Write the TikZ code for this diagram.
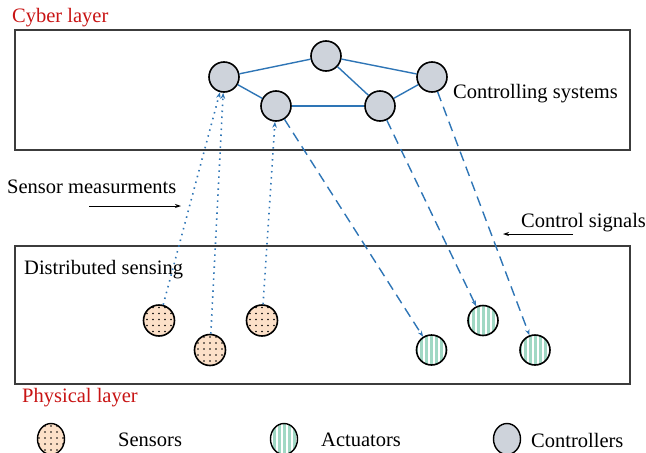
\documentclass[tikz,border=0pt]{standalone}
\usepackage{fontspec}
\setmainfont{Liberation Serif}
\usetikzlibrary{arrows.meta,shapes.geometric}
\definecolor{lineblue}{RGB}{46,117,182}
\definecolor{ctrlfill}{RGB}{206,211,219}
\definecolor{sensfill}{RGB}{252,224,200}
\definecolor{actgreen}{RGB}{160,216,196}
\definecolor{layerred}{RGB}{200,20,20}
\definecolor{boxgray}{RGB}{60,60,60}
\tikzset{
  ctrl/.style={circle,draw=black,line width=1.6pt,fill=ctrlfill,minimum size=30pt,inner sep=0pt},
  sensorpat/.style={path picture={
     \foreach \i in {-2,...,2}{\foreach \j in {-2,...,2}{
       \fill[black] ([shift={(\i*6pt,\j*6pt+1pt)}]path picture bounding box.center) circle (0.8pt);}}}},
  actpat/.style={path picture={
     \foreach \i in {-3,...,3}{
       \fill[actgreen] ([shift={(\i*5pt-1.5pt,-20pt)}]path picture bounding box.center) rectangle ++(3pt,40pt);}}},
  sens/.style={circle,draw=black,line width=1.6pt,fill=sensfill,minimum size=31pt,inner sep=0pt,sensorpat},
  act/.style={circle,draw=black,line width=1.6pt,fill=white,minimum size=30pt,inner sep=0pt,actpat},
  legsens/.style={ellipse,draw=black,line width=1.4pt,fill=sensfill,minimum width=27pt,minimum height=31pt,inner sep=0pt,sensorpat},
  legact/.style={ellipse,draw=black,line width=1.4pt,fill=white,minimum width=27pt,minimum height=31pt,inner sep=0pt,actpat},
  legctrl/.style={ellipse,draw=black,line width=1.4pt,fill=ctrlfill,minimum width=27pt,minimum height=31pt,inner sep=0pt},
  layerbox/.style={draw=boxgray,line width=1.5pt},
  net/.style={lineblue,line width=1.4pt},
  sensline/.style={lineblue,line width=1.6pt,dash pattern=on 1.5pt off 4.5pt,-{Stealth[length=6pt,width=4.5pt]}},
  ctrlline/.style={lineblue,line width=1.4pt,dash pattern=on 10pt off 6pt,-{Stealth[length=6pt,width=4.5pt]}},
  lbl/.style={anchor=west,inner sep=0pt,font=\fontsize{20.5}{24}\selectfont},
  redlbl/.style={lbl,text=layerred},
  plain/.style={black,line width=0.9pt,-{Stealth[length=6pt,width=4pt]}}
}
\begin{document}
\begin{tikzpicture}[x=1pt,y=-1pt]
\useasboundingbox (0,0) rectangle (646,453);
% layer boxes
\draw[layerbox] (15,30) rectangle (630,150);
\draw[layerbox] (15,246) rectangle (630,384);
% labels
\node[redlbl] (cyber) at (12,18) {Cyber layer};
\node[redlbl] (phys) at (22,398) {Physical layer};
\node[lbl] (ctrlsys) at (453,94) {Controlling systems};
\node[lbl] (sensm) at (7,187) {Sensor measurments};
\node[lbl] (ctrls) at (521,223) {Control signals};
\node[lbl] (dist) at (24,270) {Distributed sensing};
\coordinate (sa) at (89,206);
\coordinate (sb) at (181,206);
\coordinate (ca) at (573,234);
\coordinate (cb) at (503,234);
\draw[plain] (sa) -- (sb);
\draw[plain] (ca) -- (cb);
% controllers
\node[ctrl] (C1) at (224,77) {};
\node[ctrl] (C2) at (326,56) {};
\node[ctrl] (C3) at (276,106) {};
\node[ctrl] (C4) at (380,106) {};
\node[ctrl] (C5) at (432,77) {};
\draw[net] (C1) -- (C2);
\draw[net] (C1) -- (C3);
\draw[net] (C3) -- (C4);
\draw[net] (C2) -- (C4);
\draw[net] (C2) -- (C5);
\draw[net] (C4) -- (C5);
% sensors
\node[sens] (S1) at (159,320.5) {};
\node[sens] (S2) at (210,350) {};
\node[sens] (S3) at (262,320.5) {};
% actuators
\node[act] (A1) at (431.5,350) {};
\node[act] (A2) at (483,320.5) {};
\node[act] (A3) at (535,350) {};
% connections
\draw[sensline] (S1) -- (C1);
\draw[sensline] (S2) -- (C1);
\draw[sensline] (S3) -- (C3);
\draw[ctrlline] (C3) -- (A1);
\draw[ctrlline] (C4) -- (A2);
\draw[ctrlline] (C5) -- (A3);
% legend
\node[legsens] (LS) at (51,439) {};
\node[lbl] (LSt) at (118,440) {Sensors};
\node[legact] (LA) at (284,439) {};
\node[lbl] (LAt) at (321,440) {Actuators};
\node[legctrl] (LC) at (507,439) {};
\node[lbl] (LCt) at (531,440) {Controllers};
\end{tikzpicture}
\end{document}
